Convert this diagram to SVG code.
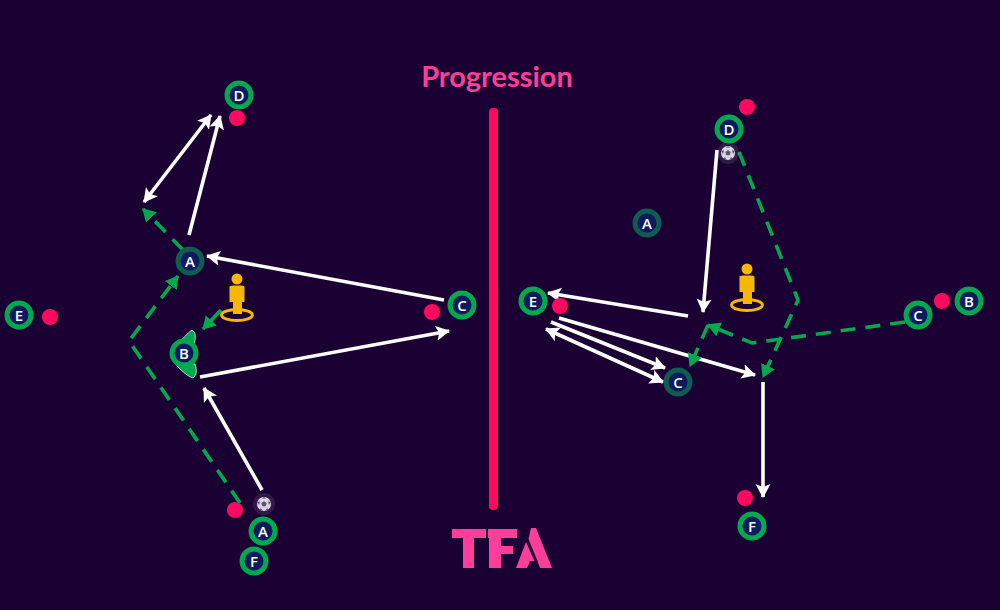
<svg xmlns="http://www.w3.org/2000/svg" width="1000" height="610" viewBox="0 0 1000 610">
<style>
.n circle.r{fill:#0c1a5e;stroke:#00a84f;stroke-width:5}
.n.d circle.r{stroke:#0f5c50}
.n text{font-family:"Open Sans","Liberation Sans",sans-serif;font-weight:600;font-size:15px;fill:#fff;text-anchor:middle}
.w{fill:none;stroke:#fff;stroke-width:3.600;marker-end:url(#wa)}
.wb{marker-start:url(#was)}
.g{fill:none;stroke:#00a84f;stroke-width:3.600;stroke-dasharray:15 10;marker-end:url(#ga)}
.dot{fill:#ff0a5f}
.pl{fill:#f5b800}
</style>
<defs>
<marker id="wa" markerUnits="userSpaceOnUse" markerWidth="16" markerHeight="16" refX="13" refY="7.500" orient="auto"><path d="M0 0L14 7.500L0 15L3 7.500Z" fill="#fff"/></marker>
<marker id="was" markerUnits="userSpaceOnUse" markerWidth="16" markerHeight="16" refX="1" refY="7.500" orient="auto"><path d="M14 0L0 7.500L14 15L11 7.500Z" fill="#fff"/></marker>
<marker id="ga" markerUnits="userSpaceOnUse" markerWidth="16" markerHeight="16" refX="12" refY="7.500" orient="auto"><path d="M0 0L13 7.500L0 15Z" fill="#00a84f"/></marker>
<g id="ball"><circle r="11" fill="#fff" fill-opacity=".1"/><circle r="7" fill="#d9d6e2"/><path d="M0-2.800L2.700-.9L1.700 2.300H-1.700L-2.700-.9Z" fill="#5a5370"/><path d="M0-7L2-5.400H-2ZM6.700-2L4.800 1L4.100-2.700ZM-6.700-2L-4.800 1L-4.100-2.700ZM4 5.700L1.300 6.800L3.200 3.800ZM-4 5.700L-1.300 6.800L-3.200 3.800Z" fill="#5a5370"/></g>
<g id="player"><circle cx="0" cy="-19" r="5.500" class="pl"/><path d="M-7.500-11.500V4H-4V16H5V4H7.500V-11.500Q6-12.500 4-12.500H-4Q-6-12.500-7.500-11.500Z" class="pl"/><ellipse cx="0" cy="17" rx="15.500" ry="5.500" fill="none" stroke="#f5b800" stroke-width="2.800"/></g>
</defs>
<rect width="1000" height="610" fill="#1a0033"/>
<text x="497" y="87" font-family="Lato,'Liberation Sans',sans-serif" font-weight="700" font-size="29" fill="#ff3d9a" text-anchor="middle">Progression</text>
<rect x="489" y="108" width="9" height="402" rx="4" fill="#ff0a5f"/>
<g id="logo" fill="#ff3d9a">
<path d="M452 529H486V538H474V568H463V538H452Z"/>
<path d="M488 529H517V538H501V546H513V554H501V568H489V538H488Z"/>
<path d="M531 528H536L552 568H540L537.500 561L528.500 539Z"/>
<path d="M516 568L526 542L534.500 561H530L527 568Z"/>
</g>
<g id="connectors">
<path class="w" d="M189 235L220 116"/>
<path class="w wb" d="M144 202L211 115"/>
<path class="w" d="M444 300L207 256"/>
<path class="w" d="M200 377L449 331"/>
<path class="w" d="M262 490L204 388"/>
<path class="w" d="M717 150L703 312"/>
<path class="w" d="M688 316L548 293"/>
<path class="w" d="M551 322L665 368"/>
<path class="w wb" d="M546 329L663 382"/>
<path class="w" d="M559 318L755 375"/>
<path class="w" d="M763 382V497"/>
<path class="g" d="M240 503L129 341L178 276"/>
<path class="g" d="M183 250L143 209"/>
<path class="g" d="M221 310L203 329"/>
<path class="g" d="M739 152L798 300L763 377"/>
<path class="g" d="M905 322L752 343L708 325"/>
<path class="g" d="M708 325L690 366"/>
</g>
<g id="dots" class="dot">
<circle cx="237" cy="118" r="8"/><circle cx="50" cy="317" r="8"/><circle cx="432" cy="312" r="8"/><circle cx="235" cy="510" r="8"/>
<circle cx="747" cy="107" r="8"/><circle cx="560" cy="306" r="8"/><circle cx="942" cy="301" r="8"/><circle cx="745" cy="498" r="8"/>
</g>
<use id="player-left" href="#player" x="237" y="298"/>
<use id="player-right" href="#player" x="747" y="288"/>
<use id="ball-left" href="#ball" x="264" y="504"/>
<use id="ball-right" href="#ball" x="728" y="153"/>
<g id="keeper-shape" fill="#00a84f" stroke="#e8f5ec" stroke-width=".8">
<path d="M178 342C184 339 187 333 192 330C196 332 196 338 194 344Z"/>
<path d="M174 362C180 370 187 376 193 378C197 375 197 370 195 364Z"/>
</g>
<g id="n-l-d" class="n"><circle class="r" cx="239" cy="95" r="12"/><text x="239" y="100.500">D</text></g>
<g id="n-l-e" class="n"><circle class="r" cx="19" cy="315" r="12"/><text x="19" y="320.500">E</text></g>
<g id="n-l-c" class="n"><circle class="r" cx="462" cy="305" r="12"/><text x="462" y="310.500">C</text></g>
<g id="n-l-a" class="n d"><circle class="r" cx="190" cy="261" r="12"/><text x="190" y="266.500">A</text></g>
<g id="n-l-b" class="n"><circle class="r" cx="184" cy="353" r="12"/><text x="184" y="358.500">B</text></g>
<g id="n-l-a2" class="n"><circle class="r" cx="263" cy="531" r="12"/><text x="263" y="536.500">A</text></g>
<g id="n-l-f" class="n"><circle class="r" cx="254" cy="561" r="12"/><text x="254" y="566.500">F</text></g>
<g id="n-r-d" class="n"><circle class="r" cx="729" cy="129" r="12"/><text x="729" y="134.500">D</text></g>
<g id="n-r-a" class="n d"><circle class="r" cx="647" cy="223" r="12"/><text x="647" y="228.500">A</text></g>
<g id="n-r-e" class="n"><circle class="r" cx="533" cy="301" r="12"/><text x="533" y="306.500">E</text></g>
<g id="n-r-c" class="n d"><circle class="r" cx="678" cy="382" r="12"/><text x="678" y="387.500">C</text></g>
<g id="n-r-c2" class="n"><circle class="r" cx="918" cy="315" r="12"/><text x="918" y="320.500">C</text></g>
<g id="n-r-b" class="n"><circle class="r" cx="969" cy="301" r="12"/><text x="969" y="306.500">B</text></g>
<g id="n-r-f" class="n"><circle class="r" cx="752" cy="526" r="12"/><text x="752" y="531.500">F</text></g>
</svg>
